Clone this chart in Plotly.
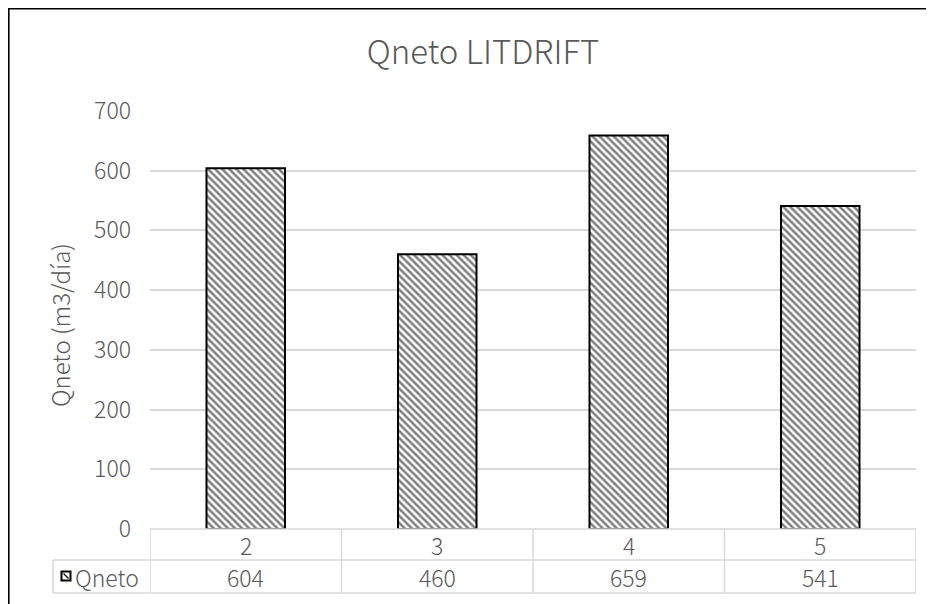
import plotly.graph_objects as go

categories = ["2", "3", "4", "5"]
values = [604, 460, 659, 541]
series_name = "Qneto"
title_text = "Qneto LITDRIFT"
y_title = "Qneto (m3/día)"
y_ticks = [0, 100, 200, 300, 400, 500, 600, 700]

FONT = "Noto Sans CJK SC, Noto Sans, sans-serif"
TXT = "#595959"
GRID = "#d9d9d9"

OFF = 8  # page body margin offset
W, H = 934 - OFF, 604 - OFF
L, R, T, B = 150 - OFF, 18, 111 - OFF, 604 - 529
PW, PH = W - L - R, H - T - B


def px(x):
    """reference page x -> paper coordinate"""
    return (x - OFF - L) / PW


def py(y):
    """reference page y -> paper coordinate"""
    return (H - B - (y - OFF)) / PH


fig = go.Figure()
fig.add_trace(go.Bar(
    x=categories, y=values, name=series_name,
    marker=dict(color="white", line=dict(color="black", width=2),
                pattern=dict(shape="\\", fgcolor="black", bgcolor="white",
                             size=5, solidity=0.5)),
    showlegend=False,
))

shapes = []
n = len(categories)
lw = 1.5
shapes.append(dict(type="line", xref="x", yref="paper", x0=-0.5, x1=n - 0.5,
                   y0=0, y1=0, line=dict(color=GRID, width=lw)))
shapes.append(dict(type="line", xref="paper", yref="paper", x0=px(53), x1=1,
                   y0=py(560), y1=py(560), line=dict(color=GRID, width=lw)))
shapes.append(dict(type="line", xref="paper", yref="paper", x0=px(53), x1=1,
                   y0=py(593), y1=py(593), line=dict(color=GRID, width=lw)))
for i in range(n + 1):
    shapes.append(dict(type="line", xref="x", yref="paper", x0=i - 0.5, x1=i - 0.5,
                       y0=0, y1=py(593), line=dict(color=GRID, width=lw)))
shapes.append(dict(type="line", xref="paper", yref="paper", x0=px(53), x1=px(53),
                   y0=py(560), y1=py(593), line=dict(color=GRID, width=lw)))
# legend key
shapes.append(dict(type="rect", xref="paper", yref="paper", x0=px(61.5), x1=px(70.5),
                   y0=py(571.5), y1=py(580.5), fillcolor="white",
                   line=dict(color="black", width=2)))
shapes.append(dict(type="line", xref="paper", yref="paper", x0=px(63.5), x1=px(68.5),
                   y0=py(573.5), y1=py(578.5), line=dict(color="black", width=1.3)))
# outer chart border
shapes.append(dict(type="rect", xref="paper", yref="paper", x0=px(8.8), x1=px(950),
                   y0=py(620), y1=py(8.8), line=dict(color="black", width=1.6),
                   fillcolor="rgba(0,0,0,0)", layer="below"))

tf = dict(family=FONT, size=23, color=TXT, weight=300)
annotations = []
for i, (c, v) in enumerate(zip(categories, values)):
    annotations.append(dict(x=i, y=py(545), xref="x", yref="paper", text=c,
                            showarrow=False, xanchor="center", yanchor="middle", font=tf))
    annotations.append(dict(x=i, y=py(577), xref="x", yref="paper", text=str(v),
                            showarrow=False, xanchor="center", yanchor="middle", font=tf))
annotations.append(dict(x=px(73), y=py(577), xref="paper", yref="paper", text=series_name,
                        showarrow=False, xanchor="left", yanchor="middle", font=tf))
annotations.append(dict(x=px(59), y=py(325), xref="paper", yref="paper", text=y_title,
                        showarrow=False, xanchor="center", yanchor="middle", textangle=-90,
                        font=dict(family=FONT, size=24, color=TXT, weight=300)))

fig.update_layout(
    width=W, height=H,
    margin=dict(l=L, r=R, t=T, b=B, pad=0),
    paper_bgcolor="white", plot_bgcolor="white",
    title=dict(text=title_text, x=(483 - OFF) / W, xanchor="center",
               y=1 - (52 - OFF) / H, yanchor="middle", xref="container", yref="container",
               font=dict(family=FONT, size=33, color=TXT, weight=300)),
    bargap=0.59,
    shapes=shapes,
    annotations=annotations,
    xaxis=dict(type="category", range=[-0.5, n - 0.5], showticklabels=False,
               showgrid=False, zeroline=False, showline=False, ticks=""),
    yaxis=dict(range=[0, 700], tickvals=y_ticks, showgrid=True, gridcolor=GRID,
               gridwidth=1.5, zeroline=False, showline=False, ticks="",
               ticklabelstandoff=18,
               tickfont=dict(family=FONT, size=23, color=TXT, weight=300)),
)

fig.write_html("out.html")
